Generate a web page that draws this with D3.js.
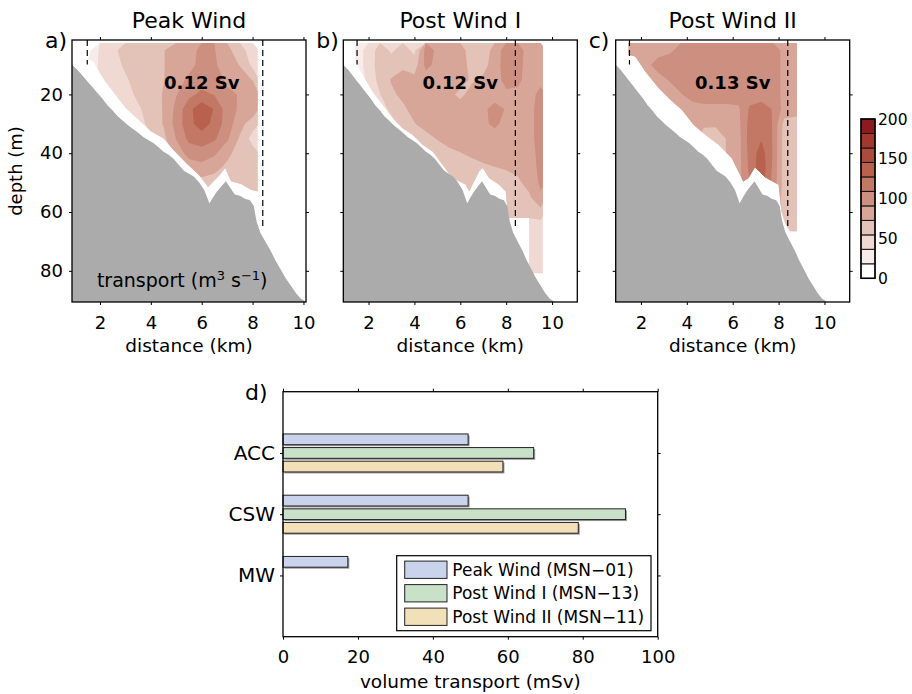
<!DOCTYPE html>
<html>
<head>
<meta charset="utf-8">
<script src="https://cdn.jsdelivr.net/npm/d3@7"></script>
<style>
body { margin: 0; background: #fff; }
svg text { font-family: "DejaVu Sans", sans-serif; fill: #000; }
</style>
</head>
<body>
<svg id="fig" width="912" height="694"></svg>
<script>
// contour levels (m3 s-1) and colours, as on the colour bar
const levels = [0, 18.2, 36.4, 54.5, 72.7, 90.9, 109.1, 127.3, 145.5, 163.6, 181.8, 200]
const levelColors = ['#ffffff', '#f8ecea', '#f0d9d3', '#e3c2b7', '#d7a698', '#cd8f80',
    '#c37866', '#b8614f', '#ab4b3c', '#a1372d', '#8c1a1f']
const colorbarTicks = [0, 50, 100, 150, 200]

// bottom depth along the section [km, m]
const bathymetry = [
    [0.85, 9.5], [1.1, 11.5], [1.3, 13.5], [1.5, 15.5], [1.7, 17.5], [1.9, 19.5], [2.1, 21.5],
    [2.3, 23.8], [2.5, 25.5], [2.7, 27.5], [2.9, 29], [3.1, 30.5], [3.3, 31.8], [3.5, 33],
    [3.7, 34.5], [3.9, 35.5], [4.1, 36.5], [4.3, 38], [4.5, 39.5], [4.7, 40.5], [4.9, 42],
    [5.1, 44], [5.3, 46], [5.5, 47], [5.7, 48], [5.9, 50], [6.1, 52.5], [6.3, 57], [6.45, 55],
    [6.6, 53], [6.8, 51], [6.95, 49.5], [7.1, 51.5], [7.3, 54], [7.5, 54.5], [7.7, 55.5],
    [7.9, 56], [8.05, 58], [8.15, 63], [8.3, 67], [8.5, 70], [8.7, 73], [8.9, 76.5],
    [9.1, 79.5], [9.3, 82.5], [9.5, 85], [9.7, 87.5], [9.9, 89.5], [10.1, 90.5], [10.3, 91.5]
]
// dashed section limits [km, lower end m]
const sectionEdges = [[1.5, 9.8], [8.4, 66]]

// ---- Peak Wind transport field
const distPeak = [1.5, 2, 2.5, 3, 3.5, 4, 4.5, 5, 5.5, 6, 6.5, 7, 7.5, 8]
const depthPeak = [5, 10, 15, 20, 25, 30, 35, 40, 45, 50, 55]
const fieldPeak = [
    [10, 40, 50, 62, 64, 66, 72, 80, 86, 94, 92, 76, 66, 40],
    [20, 40, 46, 58, 64, 66, 72, 80, 86, 96, 94, 80, 72, 50],
    [30, 38, 42, 52, 62, 66, 72, 84, 94, 100, 98, 88, 80, 72],
    [30, 40, 44, 48, 58, 64, 74, 90, 104, 114, 108, 94, 90, 90],
    [30, 40, 44, 46, 52, 62, 74, 96, 122, 140, 126, 100, 88, 86],
    [30, 40, 44, 46, 48, 60, 74, 98, 122, 136, 122, 100, 80, 62],
    [30, 40, 44, 46, 46, 52, 68, 92, 114, 118, 112, 94, 70, 48],
    [30, 40, 44, 46, 46, 46, 56, 80, 98, 102, 94, 78, 64, 62],
    [30, 40, 44, 46, 46, 46, 50, 62, 80, 84, 78, 68, 64, 64],
    [30, 40, 44, 46, 46, 46, 50, 58, 64, 66, 64, 64, 64, 64],
    [30, 40, 44, 46, 46, 46, 50, 58, 64, 66, 64, 64, 64, 64]
]
const bottomPeak = [[1.5, 8], [1.75, 9], [1.95, 12], [2.2, 15.5], [2.6, 20], [3.0, 24.5],
    [3.5, 28.5], [4.0, 32.5], [4.5, 35], [4.9, 39], [5.35, 43], [5.9, 47.5], [6.25, 51.5],
    [6.7, 47.5], [6.92, 45], [7.15, 49.5], [7.55, 50.5], [7.95, 52.5], [8.2, 53]]

// ---- Post Wind I transport field
const distPost1 = [1.5, 2, 2.5, 3, 3.5, 4, 4.5, 5, 5.5, 6, 6.5, 7, 7.5, 8, 8.5, 9, 9.5]
const depthPost1 = [5, 10, 15, 20, 25, 30, 35, 40, 45, 50, 55, 60, 65, 70, 75, 80]
const fieldPost1 = [
    [28, 44, 62, 52, 62, 50, 98, 88, 82, 80, 64, 62, 80, 100, 98, 84, 82],
    [28, 44, 64, 62, 70, 64, 96, 86, 82, 82, 66, 66, 82, 100, 98, 82, 82],
    [28, 40, 62, 74, 78, 78, 82, 84, 82, 80, 70, 76, 84, 96, 96, 82, 86],
    [28, 40, 54, 70, 76, 80, 82, 84, 78, 68, 80, 82, 84, 88, 86, 84, 96],
    [28, 40, 48, 58, 70, 78, 82, 84, 84, 82, 84, 88, 96, 90, 84, 84, 100],
    [28, 40, 46, 50, 60, 72, 80, 84, 84, 84, 84, 88, 94, 86, 82, 84, 100],
    [28, 40, 46, 46, 48, 56, 66, 74, 80, 82, 84, 84, 84, 84, 82, 84, 100],
    [28, 40, 46, 46, 46, 48, 54, 62, 68, 72, 76, 78, 80, 82, 80, 82, 98],
    [28, 40, 46, 46, 46, 48, 50, 52, 56, 62, 66, 70, 72, 74, 76, 82, 96],
    [28, 40, 46, 46, 46, 48, 50, 52, 54, 54, 58, 60, 64, 66, 70, 78, 94],
    [28, 40, 46, 46, 46, 48, 50, 52, 54, 54, 58, 60, 60, 62, 64, 70, 88],
    [28, 40, 46, 46, 46, 48, 50, 52, 54, 54, 58, 60, 60, 60, 60, 62, 66],
    [28, 40, 46, 46, 46, 48, 50, 52, 54, 54, 58, 60, 60, 60, 60, 44, 44],
    [28, 40, 46, 46, 46, 48, 50, 52, 54, 54, 58, 60, 60, 60, 60, 44, 44],
    [28, 40, 46, 46, 46, 48, 50, 52, 54, 54, 58, 60, 60, 60, 60, 44, 44],
    [28, 40, 46, 46, 46, 48, 50, 52, 54, 54, 58, 60, 60, 60, 60, 44, 44]
]
const bottomPost1 = [[1.42, 8.8], [1.74, 13.3], [2.17, 19], [2.61, 23.5], [3.05, 28],
    [3.48, 31.5], [3.92, 33.7], [4.35, 37.1], [4.79, 39.4], [5.22, 43.9], [5.66, 48.5],
    [6.24, 50.7], [6.39, 53], [6.82, 46.2], [6.97, 45], [7.26, 48.5], [7.69, 50.7],
    [7.98, 53], [8.08, 62], [9.0, 62], [9.0, 80.8], [9.6, 80.8]]

// ---- Post Wind II transport field
const distPost2 = [1.25, 1.75, 2.25, 2.75, 3.25, 3.75, 4.25, 4.75, 5.25, 5.75, 6.25, 6.75,
    7.25, 7.75, 8.25, 8.75, 9.25]
const depthPost2 = [5, 10, 15, 20, 25, 30, 35, 40, 45, 50, 55, 60, 65, 70]
const fieldPost2 = [
    [80, 80, 82, 86, 88, 96, 100, 100, 100, 100, 100, 100, 100, 100, 86, 82, 82],
    [80, 84, 88, 96, 100, 100, 100, 100, 100, 100, 100, 100, 100, 100, 86, 82, 82],
    [80, 84, 86, 86, 92, 100, 100, 100, 100, 100, 100, 100, 100, 100, 86, 84, 84],
    [80, 84, 86, 86, 84, 90, 98, 100, 100, 100, 100, 100, 100, 100, 86, 84, 84],
    [80, 84, 86, 86, 84, 82, 84, 86, 86, 86, 88, 112, 118, 108, 84, 82, 82],
    [80, 84, 86, 86, 84, 82, 80, 76, 76, 80, 86, 116, 124, 108, 66, 64, 64],
    [80, 84, 86, 86, 84, 82, 80, 64, 62, 74, 84, 118, 126, 108, 64, 62, 62],
    [80, 84, 86, 86, 84, 82, 80, 60, 60, 74, 84, 116, 136, 108, 64, 62, 62],
    [80, 84, 86, 86, 84, 82, 80, 62, 62, 74, 84, 114, 140, 106, 64, 62, 62],
    [80, 84, 86, 86, 84, 82, 80, 64, 64, 74, 84, 110, 136, 104, 64, 62, 62],
    [80, 84, 86, 86, 84, 82, 80, 64, 64, 74, 84, 100, 100, 100, 62, 60, 60],
    [80, 84, 86, 86, 84, 82, 80, 64, 64, 74, 84, 100, 100, 100, 62, 60, 60],
    [80, 84, 86, 86, 84, 82, 80, 64, 64, 74, 84, 100, 100, 100, 60, 58, 58],
    [80, 84, 86, 86, 84, 82, 80, 64, 64, 74, 84, 100, 100, 100, 58, 56, 56]
]
const bottomPost2 = [[1.46, 6.5], [1.75, 7.1], [2.19, 12.2], [2.77, 17.8], [3.28, 21.8],
    [3.78, 25.2], [4.29, 30.3], [4.8, 33.7], [5.38, 37.1], [5.96, 41.7], [6.46, 49.6],
    [6.68, 48.5], [6.97, 44.8], [7.41, 48.2], [8.0, 50.7], [8.13, 60], [8.3, 64],
    [8.5, 66.5], [8.8, 66.5]]

// ---- panel d
const regions = ['ACC', 'CSW', 'MW']
const seriesNames = ['Peak Wind (MSN\u221201)', 'Post Wind I (MSN\u221213)', 'Post Wind II (MSN\u221211)']
const seriesColors = ['#c9d3ec', '#c9e0c9', '#f2e0b9']
const peakWind = [49.4, 49.4, 17.3]
const postWind1 = [66.9, 91.4, null]
const postWind2 = [58.7, 78.8, null]
const transportTicks = [0, 20, 40, 60, 80, 100]

const svg = d3.select('#fig')
const defs = svg.append('defs')

const panels = [
    { label: 'a)', title: 'Peak Wind', total: '0.12 Sv', left: 72, xMax: 10.1, yLabels: true,
      dist: distPeak, depth: depthPeak, field: fieldPeak, bottom: bottomPeak },
    { label: 'b)', title: 'Post Wind I', total: '0.12 Sv', left: 343.3, xMax: 11.1, yLabels: false,
      dist: distPost1, depth: depthPost1, field: fieldPost1, bottom: bottomPost1 },
    { label: 'c)', title: 'Post Wind II', total: '0.13 Sv', left: 615.7, xMax: 11.1, yLabels: false,
      dist: distPost2, depth: depthPost2, field: fieldPost2, bottom: bottomPost2 }
]
const TOP = 40, BOTTOM = 302, PW = 234

panels.forEach((p, i) => {
    const x = d3.scaleLinear().domain([0.9, p.xMax]).range([p.left, p.left + PW])
    const y = d3.scaleLinear().domain([1.5, 90.6]).range([TOP, BOTTOM])
    const g = svg.append('g')

    defs.append('clipPath').attr('id', 'box' + i)
        .append('rect').attr('x', p.left).attr('y', TOP).attr('width', PW).attr('height', BOTTOM - TOP)

    const last = p.bottom[p.bottom.length - 1]
    const extent = [[p.bottom[0][0], 2.5], ...p.bottom, [last[0], 2.5]]
    const line = d3.line().x(d => x(d[0])).y(d => y(d[1]))
    defs.append('clipPath').attr('id', 'data' + i)
        .append('path').attr('d', line(extent) + 'Z')

    // filled contours
    const nx = p.dist.length, ny = p.depth.length
    const gx = d3.scaleLinear().domain(p.dist.map((d, j) => j + 0.5)).range(p.dist)
    const gy = d3.scaleLinear().domain(p.depth.map((d, j) => j + 0.5)).range(p.depth)
    const proj = d3.geoTransform({
        point: function (px, py) { this.stream.point(x(gx(px)), y(gy(py))) }
    })
    const bands = d3.contours().size([nx, ny]).thresholds(levels.slice(1, -1))(p.field.flat())
    g.append('g')
        .attr('clip-path', `url(#data${i})`)
        .selectAll('path')
        .data(bands)
        .join('path')
        .attr('d', d3.geoPath(proj))
        .attr('fill', (d, j) => levelColors[j + 1])

    // bathymetry
    g.append('path')
        .attr('clip-path', `url(#box${i})`)
        .attr('d', d3.area().x(d => x(d[0])).y0(BOTTOM + 5).y1(d => y(d[1]))(bathymetry))
        .attr('fill', '#ababab')

    // section limits
    g.selectAll('.edge')
        .data(sectionEdges)
        .join('line')
        .attr('x1', d => x(d[0])).attr('x2', d => x(d[0]))
        .attr('y1', TOP).attr('y2', d => y(d[1]))
        .attr('stroke', '#000').attr('stroke-width', 1.2).attr('stroke-dasharray', '6,4')

    g.append('text')
        .attr('x', x(6)).attr('y', y(18))
        .attr('text-anchor', 'middle').attr('font-weight', 'bold').attr('font-size', 18)
        .text(p.total)

    // axes
    const xt = [2, 4, 6, 8, 10], yt = [20, 40, 60, 80]
    g.append('g').attr('transform', `translate(0,${BOTTOM})`)
        .call(d3.axisBottom(x).tickValues(xt).tickSize(3).tickPadding(11))
    g.append('g').attr('transform', `translate(0,${TOP})`)
        .call(d3.axisTop(x).tickValues(xt).tickSize(3).tickFormat(''))
    g.append('g').attr('transform', `translate(${p.left},0)`)
        .call(d3.axisLeft(y).tickValues(yt).tickSize(3).tickPadding(6).tickFormat(p.yLabels ? d3.format('d') : ''))
    g.append('g').attr('transform', `translate(${p.left + PW},0)`)
        .call(d3.axisRight(y).tickValues(yt).tickSize(3).tickFormat(''))
    g.selectAll('.domain').remove()
    g.selectAll('.tick text').attr('font-size', 18)

    g.append('rect')
        .attr('x', p.left).attr('y', TOP).attr('width', PW).attr('height', BOTTOM - TOP)
        .attr('fill', 'none').attr('stroke', '#000').attr('stroke-width', 1.3)

    g.append('text')
        .attr('x', p.left + PW / 2).attr('y', 28)
        .attr('text-anchor', 'middle').attr('font-size', 22)
        .text(p.title)
    g.append('text')
        .attr('x', p.left - 27).attr('y', 48)
        .attr('font-size', 22)
        .text(p.label)
    g.append('text')
        .attr('x', p.left + PW / 2).attr('y', 351.5)
        .attr('text-anchor', 'middle').attr('font-size', 18.5)
        .text('distance (km)')

    if (i === 0) {
        g.append('text')
            .attr('transform', `translate(22,${(TOP + BOTTOM) / 2}) rotate(-90)`)
            .attr('text-anchor', 'middle').attr('font-size', 18)
            .text('depth (m)')
        const t = g.append('text')
            .attr('x', x(1.88)).attr('y', y(85.5)).attr('font-size', 19)
        t.append('tspan').text('transport (m')
        t.append('tspan').attr('dy', -7).attr('font-size', 13).text('3')
        t.append('tspan').attr('dy', 7).text(' s')
        t.append('tspan').attr('dy', -7).attr('font-size', 13).text('\u22121')
        t.append('tspan').attr('dy', 7).text(')')
    }
})

// colour bar
const cb = d3.scaleLinear().domain([0, 200]).range([278.3, 119])
const cbar = svg.append('g')
cbar.selectAll('rect')
    .data(levelColors)
    .join('rect')
    .attr('x', 861).attr('width', 14)
    .attr('y', (d, k) => cb(levels[k + 1]))
    .attr('height', (d, k) => cb(levels[k]) - cb(levels[k + 1]))
    .attr('fill', d => d)
    .attr('stroke', '#111').attr('stroke-width', 1)
cbar.append('rect')
    .attr('x', 861).attr('y', cb(200)).attr('width', 14).attr('height', cb(0) - cb(200))
    .attr('fill', 'none').attr('stroke', '#000').attr('stroke-width', 1.5)
cbar.selectAll('text')
    .data(colorbarTicks)
    .join('text')
    .attr('x', 878).attr('y', d => cb(d)).attr('dy', '0.36em')
    .attr('font-size', 15.5)
    .text(d => d)

// panel d
const DL = 283, DR = 657.7, DT = 391.7, DB = 636.7
const xd = d3.scaleLinear().domain([0, 100]).range([DL, DR])
const yd = d3.scalePoint().domain(regions).range([DT, DB]).padding(1)
const sub = d3.scaleBand().domain(seriesNames).range([-19, 19]).paddingInner(0.21)
const gd = svg.append('g')

const series = [peakWind, postWind1, postWind2]
const barData = []
series.forEach((vals, s) => vals.forEach((v, r) => {
    if (v !== null) barData.push({ region: regions[r], name: seriesNames[s], color: seriesColors[s], value: v })
}))
gd.selectAll('.shadow')
    .data(barData)
    .join('rect')
    .attr('class', 'shadow')
    .attr('x', xd(0) + 1.5).attr('y', d => yd(d.region) + sub(d.name) + 1.5)
    .attr('width', d => xd(d.value) - xd(0)).attr('height', sub.bandwidth())
    .attr('fill', '#9a9a9a')
gd.selectAll('.bar')
    .data(barData)
    .join('rect')
    .attr('class', 'bar')
    .attr('x', xd(0)).attr('y', d => yd(d.region) + sub(d.name))
    .attr('width', d => xd(d.value) - xd(0)).attr('height', sub.bandwidth())
    .attr('fill', d => d.color)
    .attr('stroke', '#222').attr('stroke-width', 1)

const dx = gd.append('g').attr('transform', `translate(0,${DB})`)
    .call(d3.axisBottom(xd).tickValues(transportTicks).tickSize(3).tickPadding(11))
dx.selectAll('text').attr('font-size', 18)
gd.append('g').attr('transform', `translate(0,${DT})`)
    .call(d3.axisTop(xd).tickValues(transportTicks).tickSize(3).tickFormat(''))
gd.append('g').attr('transform', `translate(${DL},0)`)
    .call(d3.axisLeft(yd).tickSize(3).tickPadding(5))
    .selectAll('text').attr('font-size', 20)
gd.append('g').attr('transform', `translate(${DR},0)`)
    .call(d3.axisRight(yd).tickSize(3).tickFormat(''))
gd.selectAll('.domain').remove()
gd.append('rect')
    .attr('x', DL).attr('y', DT).attr('width', DR - DL).attr('height', DB - DT)
    .attr('fill', 'none').attr('stroke', '#000').attr('stroke-width', 1.3)

gd.append('text').attr('x', 245).attr('y', 400).attr('font-size', 22).text('d)')
gd.append('text')
    .attr('x', (DL + DR) / 2).attr('y', 688).attr('text-anchor', 'middle').attr('font-size', 18.5)
    .text('volume transport (mSv)')

// legend
const legend = gd.append('g')
legend.append('rect')
    .attr('x', 396.7).attr('y', 555.7).attr('width', 254.3).attr('height', 75)
    .attr('fill', '#fff').attr('stroke', '#000').attr('stroke-width', 1.2)
const items = legend.selectAll('.item')
    .data(seriesNames)
    .join('g')
    .attr('transform', (d, k) => `translate(404.7,${569.7 + k * 23.5})`)
items.append('rect')
    .attr('x', 0).attr('y', -8.6).attr('width', 42.3).attr('height', 17.3)
    .attr('fill', (d, k) => seriesColors[k])
    .attr('stroke', '#222').attr('stroke-width', 1)
items.append('text')
    .attr('x', 47.6).attr('dy', '0.36em').attr('font-size', 17)
    .text(d => d)
</script>
</body>
</html>
